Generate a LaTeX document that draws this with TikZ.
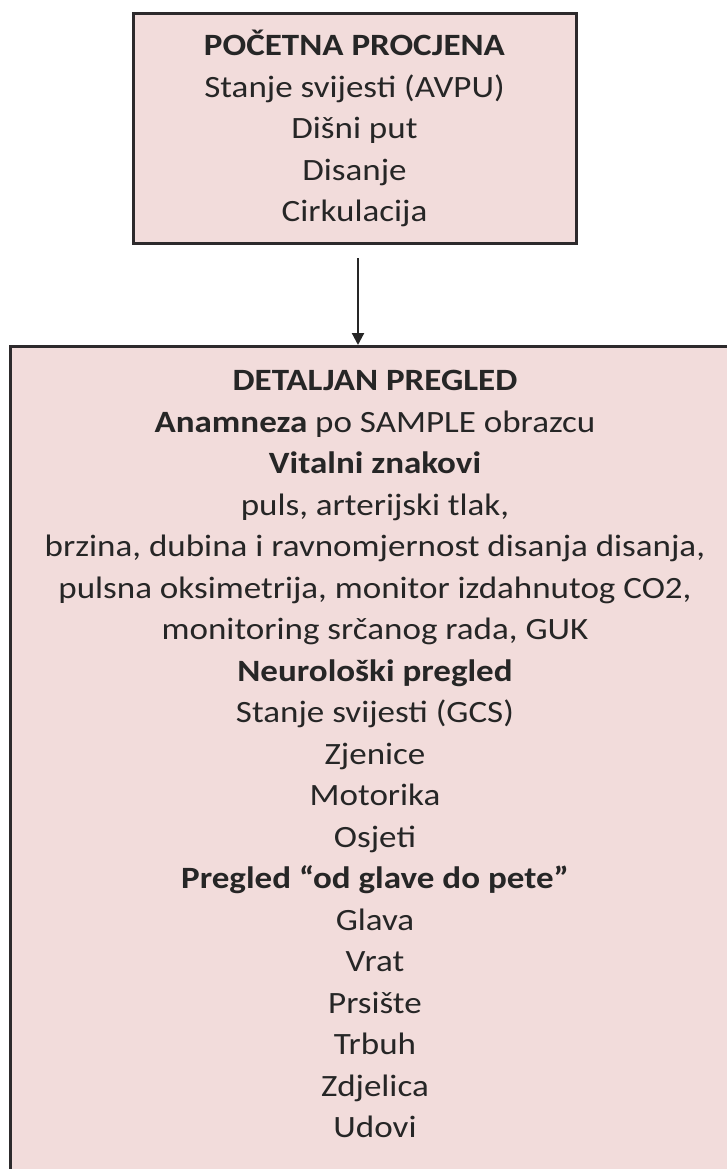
\documentclass[tikz,border=0pt]{standalone}
\usepackage{fontspec}
\setmainfont{Carlito}[FakeStretch=1.13]
\usetikzlibrary{arrows.meta}

\definecolor{boxpink}{RGB}{242,220,219}
\definecolor{boxline}{RGB}{45,42,44}

\begin{document}
\begin{tikzpicture}[x=1pt, y=-1pt,
  box/.style={draw=boxline, line width=3pt, fill=boxpink, rectangle, inner sep=0pt},
  txt/.style={align=center, inner sep=0pt, text=black!85, font=\fontsize{31}{41.5}\selectfont},
  arr/.style={line width=2.2pt, draw=black!85, -{Triangle[width=12pt,length=12pt]}}]

% Page frame
\useasboundingbox (0,0) rectangle (727,1169);
\clip (0,0) rectangle (727,1169);

%--- Initial assessment ---
\node[box, txt, anchor=north, minimum width=443pt, minimum height=230pt] (initial) at (354.5,12)
  {\textbf{POČETNA PROCJENA}\\
   Stanje svijesti (AVPU)\\
   Dišni put\\
   Disanje\\
   Cirkulacija};

%--- Detailed examination (box runs off the page) ---
\node[box, anchor=north west, minimum width=732pt, minimum height=860pt] (detail) at (9,345) {};
\node[txt, anchor=north] (detailtxt) at (375,370)
  {\textbf{DETALJAN PREGLED}\\
   \textbf{Anamneza} po SAMPLE obrazcu\\
   \textbf{Vitalni znakovi}\\
   puls, arterijski tlak,\\
   brzina, dubina i ravnomjernost disanja disanja,\\
   pulsna oksimetrija, monitor izdahnutog CO2,\\
   monitoring srčanog rada, GUK\\
   \textbf{Neurološki pregled}\\
   Stanje svijesti (GCS)\\
   Zjenice\\
   Motorika\\
   Osjeti\\
   \textbf{Pregled “od glave do pete”}\\
   Glava\\
   Vrat\\
   Prsište\\
   Trbuh\\
   Zdjelica\\
   Udovi};

%--- Arrow ---
\draw[arr] ([xshift=3.5pt, yshift=-13pt]initial.south) -- ([xshift=3.5pt]initial.south |- detail.north);

\end{tikzpicture}
\end{document}
